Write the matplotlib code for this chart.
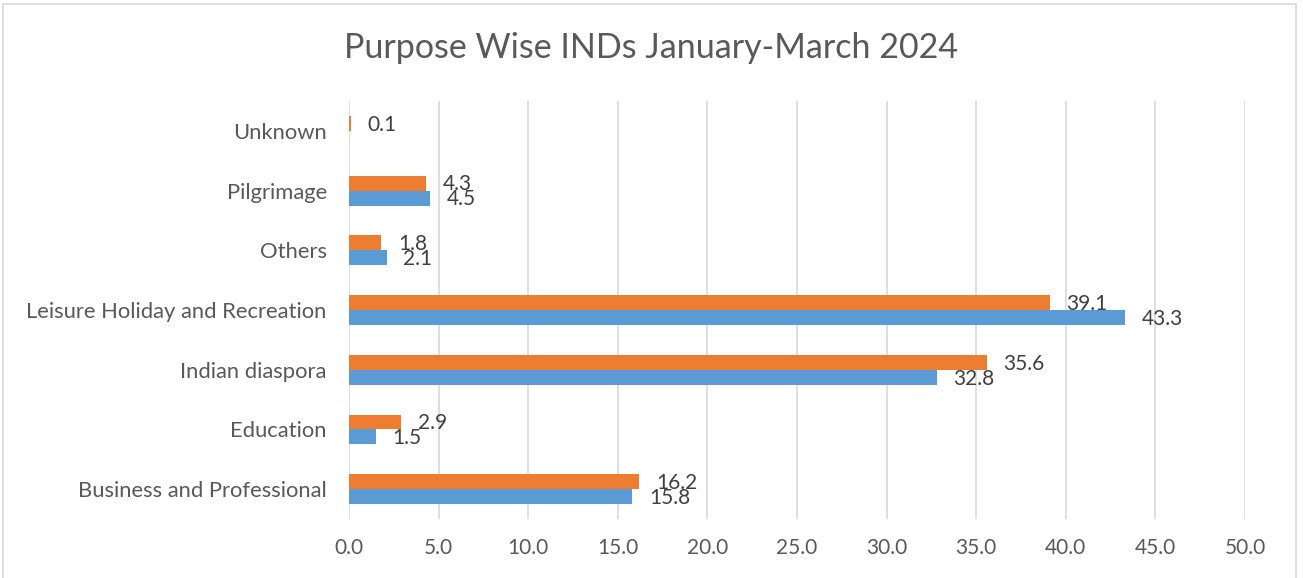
import matplotlib
matplotlib.use("Agg")
import matplotlib.pyplot as plt
import numpy as np
from matplotlib.patches import Rectangle

categories = ["Business and Professional", "Education", "Indian diaspora",
              "Leisure Holiday and Recreation", "Others", "Pilgrimage", "Unknown"]
blue_vals = [15.8, 1.5, 32.8, 43.3, 2.1, 4.5, 0.0]
orange_vals = [16.2, 2.9, 35.6, 39.1, 1.8, 4.3, 0.1]
blue_labels = ["15.8", "1.5", "32.8", "43.3", "2.1", "4.5", ""]
orange_labels = ["16.2", "2.9", "35.6", "39.1", "1.8", "4.3", "0.1"]
xticks = [0, 5, 10, 15, 20, 25, 30, 35, 40, 45, 50]

TXT = "#595959"
BLUE = "#5B9BD5"
ORANGE = "#ED7D31"
plt.rcParams['font.family'] = ['Lato', 'DejaVu Sans']

fig = plt.figure(figsize=(13.03, 5.78), dpi=100)
W, H = 1303, 578
fig.patches.append(Rectangle((3 / W, -0.01), 1293 / W, 1 - 4 / H + 0.01, transform=fig.transFigure,
                             fill=False, edgecolor="#D9D9D9", linewidth=1.2))

ax = fig.add_axes([349 / W, 1 - 519 / H, (1245 - 349) / W, (519 - 101) / H])
y = np.arange(len(categories))
h = 0.25
ax.barh(y - h / 2, blue_vals, height=h, color=BLUE, zorder=3)
ax.barh(y + h / 2, orange_vals, height=h, color=ORANGE, zorder=3)

for yi, v, lab in zip(y, blue_vals, blue_labels):
    if lab:
        ax.annotate(lab, (v, yi - h / 2), xytext=(12, -1), textcoords="offset points",
                    va="center", ha="left", fontsize=15, color="#404040")
for yi, v, lab in zip(y, orange_vals, orange_labels):
    ax.annotate(lab, (v, yi + h / 2), xytext=(12, -1), textcoords="offset points",
                va="center", ha="left", fontsize=15, color="#404040")

ax.set_xlim(0, 50)
ax.set_ylim(-0.5, len(categories) - 0.5)
ax.set_xticks(xticks)
ax.set_xticklabels([f"{t:.1f}" for t in xticks])
ax.set_yticks(y)
ax.set_yticklabels(categories)
ax.tick_params(axis="both", length=0, labelsize=15, labelcolor=TXT)
ax.tick_params(axis="y", labelsize=15.8)
ax.tick_params(axis="x", pad=14)
ax.tick_params(axis="y", pad=16)
ax.grid(axis="x", color="#D9D9D9", linewidth=1.2, zorder=0)
for s in ax.spines.values():
    s.set_visible(False)

fig.text(0.5 * (348 + 955) / W, 1 - 48 / H, "Purpose Wise INDs January-March 2024",
         ha="center", va="center", fontsize=24.5, color=TXT)

fig.savefig("out.png", dpi=100)
